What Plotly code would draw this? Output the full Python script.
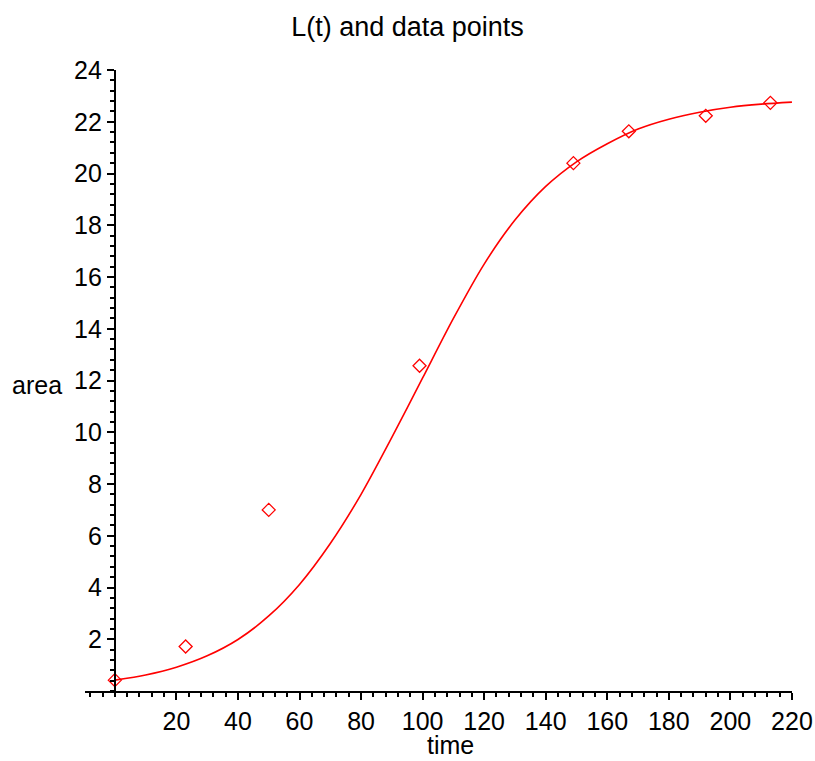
import plotly.graph_objects as go

# fitted curve L(t)
curve_t = [0, 10, 20, 30, 40, 50, 60, 70, 80, 90, 100, 110, 120, 130, 140, 150, 160, 170, 180, 190, 200, 210, 220]
curve_L = [0.42, 0.62, 0.92, 1.36, 1.99, 2.9, 4.12, 5.7, 7.6, 9.8, 12.1, 14.4, 16.5, 18.2, 19.5, 20.45, 21.15, 21.72, 22.1, 22.37, 22.56, 22.68, 22.76]

# data points
data_t = [0, 23, 50, 99, 149, 167, 192, 213]
data_area = [0.42, 1.72, 7.0, 12.57, 20.4, 21.63, 22.23, 22.73]

x_ticks = [20, 40, 60, 80, 100, 120, 140, 160, 180, 200, 220]
y_ticks = [2, 4, 6, 8, 10, 12, 14, 16, 18, 20, 22, 24]

FONT = "Liberation Sans, Arial, sans-serif"
x_range = [-9.7, 220.02]
y_range = [0, 24]

fig = go.Figure()
fig.add_trace(go.Scatter(x=curve_t, y=curve_L, mode="lines",
                         line=dict(color="#ff0000", width=1.6, shape="spline", smoothing=0.8),
                         showlegend=False, hoverinfo="skip"))
fig.add_trace(go.Scatter(x=data_t, y=data_area, mode="markers",
                         marker=dict(symbol="diamond-open", size=10, color="#ff0000",
                                     line=dict(width=1.3, color="#ff0000")),
                         showlegend=False, cliponaxis=False))

ypos = (0 - x_range[0]) / (x_range[1] - x_range[0])

fig.update_layout(
    width=815, height=761,
    margin=dict(l=85, r=23, t=70, b=70, autoexpand=False),
    paper_bgcolor="white", plot_bgcolor="white",
    font=dict(family=FONT, size=25, color="black"),
    title=dict(text="L(t) and data points", x=0.5, xref="container", xanchor="center",
               y=1 - 27 / 761, yref="container", yanchor="middle",
               font=dict(family=FONT, size=27, color="black")),
    xaxis=dict(range=x_range, showgrid=False, zeroline=False, showline=True, automargin=False,
               linecolor="black", linewidth=2, ticks="outside", ticklen=7, tickwidth=1.5,
               tickcolor="black", tickvals=x_ticks, ticktext=[str(v) for v in x_ticks],
               tickfont=dict(family=FONT, size=25),
               minor=dict(tick0=0, dtick=4, ticks="outside", ticklen=4, tickwidth=1.5, tickcolor="black"),
               fixedrange=True),
    yaxis=dict(range=y_range, showgrid=False, zeroline=False, showline=True, automargin=False,
               linecolor="black", linewidth=2, ticks="outside", ticklen=7, tickwidth=1.5,
               tickcolor="black", tickvals=y_ticks, ticktext=[str(v) for v in y_ticks],
               tickfont=dict(family=FONT, size=25),
               anchor="free", position=ypos,
               minor=dict(tick0=0, dtick=0.4, ticks="outside", ticklen=4, tickwidth=1.5, tickcolor="black"),
               fixedrange=True),
    annotations=[
        dict(text="area", xref="paper", yref="y", x=0, y=12, xshift=-48, yshift=-4,
             xanchor="center", yanchor="middle", showarrow=False,
             font=dict(family=FONT, size=25)),
        dict(text="time", xref="x", yref="paper", x=109, y=0, yshift=-54,
             xanchor="center", yanchor="middle", showarrow=False,
             font=dict(family=FONT, size=25)),
    ],
)

fig.write_html("out.html")
